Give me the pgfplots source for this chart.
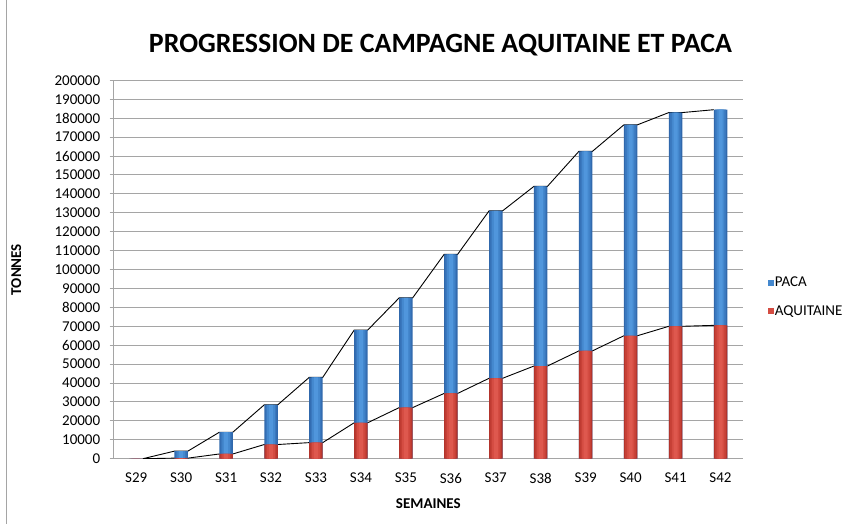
\documentclass[border=0pt]{standalone}
\usepackage{fontspec}
\setmainfont{Carlito}
\usepackage{pgfplots}
\pgfplotsset{compat=1.18}
\usepackage{pgfplotstable}

\definecolor{blue1}{RGB}{48,104,172}
\definecolor{blue2}{RGB}{58,120,190}
\definecolor{blue3}{RGB}{68,136,206}
\definecolor{blue4}{RGB}{80,150,220}
\definecolor{red1}{RGB}{178,52,44}
\definecolor{red2}{RGB}{198,64,54}
\definecolor{red3}{RGB}{212,76,66}
\definecolor{red4}{RGB}{222,88,78}
\definecolor{gridc}{RGB}{165,165,165}

\pgfplotsset{barl/.style={ybar, bar shift=0pt, draw=none}}

\pgfplotstableread{
i name aq paca
0 S29 0 0
1 S30 300 3700
2 S31 2500 11500
3 S32 7500 21000
4 S33 8500 34500
5 S34 19000 49000
6 S35 27000 58000
7 S36 34500 73500
8 S37 42500 88500
9 S38 49000 95000
10 S39 57000 105500
11 S40 65000 111500
12 S41 70000 113000
13 S42 70500 114000
}\data

\begin{document}
\begin{tikzpicture}
\path (0pt,0pt) rectangle (865pt,-524pt);
\draw[gridc, line width=0.8pt] (6.7pt,0pt) -- (6.7pt,-524pt);
\node[font=\fontsize{27.9}{32}\selectfont\bfseries] at (440.5pt,-45pt) {PROGRESSION DE CAMPAGNE AQUITAINE ET PACA};
\begin{axis}[
  at={(113.7pt,-458.3pt)}, anchor=south west,
  scale only axis, width=629.3pt, height=378.3pt,
  xmin=-0.5, xmax=13.5, ymin=0, ymax=200000,
  axis lines*=left,
  axis line style={gridc, line width=1pt},
  ytick={0,10000,...,200000},
  ymajorgrids, grid style={gridc, line width=1pt},
  xtick={0,...,13},
  xticklabels from table={\data}{name},
  xtick style={draw=none},
  ytick style={gridc, line width=1pt},
  tick align=outside, major tick length=4pt,
  scaled y ticks=false,
  yticklabel style={/pgf/number format/fixed, /pgf/number format/1000 sep={}, xshift=-6pt},
  xticklabel style={yshift=-7pt},
  /pgf/number format/assume math mode=true,
  ticklabel style={font=\fontsize{15}{18}\selectfont},
  xlabel={SEMAINES}, ylabel={TONNES},
  label style={font=\fontsize{15}{18}\selectfont\bfseries},
  xlabel style={at={(axis description cs:0.5,-0.12)}, anchor=center},
  ylabel style={at={(axis description cs:-0.155,0.5)}, anchor=center},
  legend style={at={(axis description cs:1.040,0.428)}, anchor=west,
    draw=none, fill=none, inner sep=0pt, row sep=13pt,
    font=\fontsize{15}{18}\selectfont,
    nodes={inner xsep=0.5pt}},
  legend cell align=left,
]
\addplot[black, line width=0.9pt, mark=none, forget plot] coordinates {
 (0.15,0)(0.85,4000)(1.15,4000)(1.85,14000)(2.15,14000)(2.85,28500)(3.15,28500)
 (3.85,43000)(4.15,43000)(4.85,68000)(5.15,68000)(5.85,85000)(6.15,85000)
 (6.85,108000)(7.15,108000)(7.85,131000)(8.15,131000)(8.85,144000)(9.15,144000)
 (9.85,162500)(10.15,162500)(10.85,176500)(11.15,176500)(11.85,183000)(12.15,183000)
 (12.85,184500)};
\addplot[black, line width=0.9pt, mark=none, forget plot] coordinates {
 (0.15,0)(0.85,300)(1.15,300)(1.85,2500)(2.15,2500)(2.85,7500)(3.15,7500)
 (3.85,8500)(4.15,8500)(4.85,19000)(5.15,19000)(5.85,27000)(6.15,27000)
 (6.85,34500)(7.15,34500)(7.85,42500)(8.15,42500)(8.85,49000)(9.15,49000)
 (9.85,57000)(10.15,57000)(10.85,65000)(11.15,65000)(11.85,70000)(12.15,70000)
 (12.85,70500)};
% PACA (stacked on AQUITAINE: drawn as total height)
\addplot[barl, bar width=0.30, fill=blue1, legend image code/.code={\fill[blue3] (0pt,-3pt) rectangle (6pt,3pt);}]
  table[x=i, y expr=\thisrow{aq}+\thisrow{paca}] {\data};
\addlegendentry{PACA}
\addplot[barl, bar width=0.24, fill=blue2, forget plot]
  table[x=i, y expr=\thisrow{aq}+\thisrow{paca}] {\data};
\addplot[barl, bar width=0.17, fill=blue3, forget plot]
  table[x=i, y expr=\thisrow{aq}+\thisrow{paca}] {\data};
\addplot[barl, bar width=0.09, fill=blue4, forget plot]
  table[x=i, y expr=\thisrow{aq}+\thisrow{paca}] {\data};
% AQUITAINE
\addplot[barl, bar width=0.30, fill=red1, legend image code/.code={\fill[red3] (0pt,-3pt) rectangle (6pt,3pt);}]
  table[x=i, y=aq] {\data};
\addlegendentry{AQUITAINE}
\addplot[barl, bar width=0.24, fill=red2, forget plot] table[x=i, y=aq] {\data};
\addplot[barl, bar width=0.17, fill=red3, forget plot] table[x=i, y=aq] {\data};
\addplot[barl, bar width=0.09, fill=red4, forget plot] table[x=i, y=aq] {\data};
\end{axis}
\end{tikzpicture}
\end{document}
